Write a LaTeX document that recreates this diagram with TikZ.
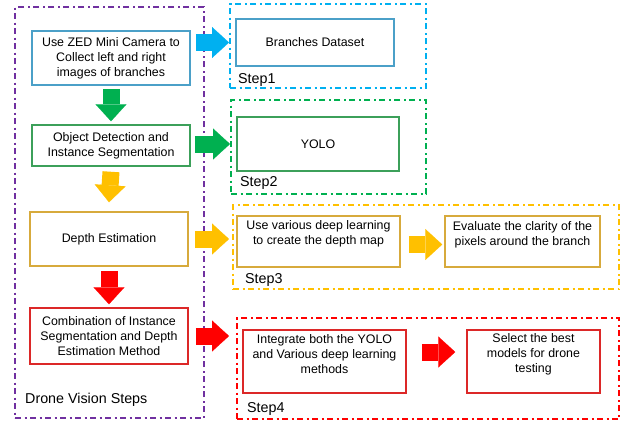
\documentclass[tikz,border=0pt]{standalone}
\usepackage{fontspec}
\setmainfont{Liberation Sans}
\usetikzlibrary{arrows.meta}
\definecolor{cblue}{HTML}{00B0F0}
\definecolor{bblue}{HTML}{4BA0C8}
\definecolor{cgreen}{HTML}{00B050}
\definecolor{bgreen}{HTML}{3CA05A}
\definecolor{cyellow}{HTML}{FFC000}
\definecolor{byellow}{HTML}{D7AA3C}
\definecolor{cred}{HTML}{FF0000}
\definecolor{bred}{HTML}{DC2828}
\definecolor{cpurple}{HTML}{7030A0}
\tikzset{
  box/.style={draw=#1, line width=1.5pt, rectangle, inner sep=2pt, align=center,
    font=\fontsize{12.4}{15}\selectfont, text=black},
  txt/.style={align=center, font=\fontsize{12.4}{15}\selectfont, text=black, inner sep=0pt},
  dbox/.style={draw=#1, line width=2pt, rectangle, dash pattern=on 6pt off 3.5pt on 2pt off 3.5pt},
  steplabel/.style={font=\fontsize{14.3}{16}\selectfont, text=black, inner sep=0pt, anchor=west},
  barrow/.style={draw=#1, line width=17pt, -{Triangle[length=17pt,width=31pt,line width=0.1pt]}},
}
\begin{document}
\begin{tikzpicture}[x=1pt,y=-1pt]
\useasboundingbox (0,0) rectangle (626,421);
% outer dash-dot frames
\node[dbox=cpurple, minimum width=189pt, minimum height=411pt] (pv) at (109.5,212.5) {};
\node[dbox=cblue, minimum width=196pt, minimum height=84pt] (s1) at (328,46) {};
\node[dbox=cgreen, minimum width=195pt, minimum height=94pt] (s2) at (328.5,147) {};
\node[dbox=cyellow, minimum width=386pt, minimum height=84pt] (s3) at (426,247) {};
\node[dbox=cred, minimum width=382pt, minimum height=101pt] (s4) at (428,368.5) {};
% labels
\node[steplabel] (l0) at (25,400) {Drone Vision Steps};
\node[steplabel] (l1) at (238,80) {Step1};
\node[steplabel] (l2) at (240,183) {Step2};
\node[steplabel] (l3) at (245,280) {Step3};
\node[steplabel] (l4) at (247,409) {Step4};
% left boxes
\node[box=bblue, minimum width=158pt, minimum height=54pt] (b1) at (111,58)
  {Use ZED Mini Camera to\\Collect left and right\\images of branches};
\node[box=bgreen, minimum width=158pt, minimum height=41pt] (b2) at (111,145.5)
  {Object Detection and\\Instance Segmentation};
\node[box=byellow, minimum width=158pt, minimum height=54pt] (b3) at (109,239)
  {Depth Estimation};
\node[box=bred, minimum width=158pt, minimum height=56pt] (b4) at (109,336)
  {Combination of Instance\\Segmentation and Depth\\Estimation Method};
% right inner boxes
\node[box=bblue, minimum width=158pt, minimum height=47pt] (bd) at (315,42.5) {Branches Dataset};
\node[box=bgreen, minimum width=162pt, minimum height=54pt] (yo) at (318,144) {YOLO};
\node[box=byellow, minimum width=163pt, minimum height=51pt] (ba) at (318.5,241.5) {};
\node[txt] (ta) at (318.5,234) {Use various deep learning\\to create the depth map};
\node[box=byellow, minimum width=155pt, minimum height=51pt] (bb) at (522.5,241.5) {};
\node[txt] (tb) at (522.5,235) {Evaluate the clarity of the\\pixels around the branch};
\node[box=bred, minimum width=163pt, minimum height=63pt] (bc) at (324.5,361.5) {};
\node[txt] (tc) at (324.5,354.5) {Integrate both the YOLO\\and Various deep learning\\methods};
\node[box=bred, minimum width=133pt, minimum height=63pt] (bdd) at (533.5,361.5) {};
\node[txt] (td) at (533.5,354) {Select the best\\models for drone\\testing};
% vertical block arrows
\draw[barrow=cgreen] ([yshift=-3pt]b1.south) -- ([yshift=3pt]b2.north);
\draw[barrow=cyellow] ([yshift=-5pt]b2.south) -- ([yshift=9pt]b3.north);
\draw[barrow=cred] ([yshift=-4pt]b3.south) -- ([yshift=3pt]b4.north);
% horizontal block arrows
\draw[barrow=cblue] ([xshift=5pt]b1.east |- bd) -- (s1.west |- bd);
\draw[barrow=cgreen] ([xshift=4pt]b2.east |- yo) -- (s2.west |- yo);
\draw[barrow=cyellow] ([xshift=6pt]b3.east) -- ([xshift=-3pt]s3.west |- b3);
\draw[barrow=cred] ([xshift=7pt]b4.east) -- ([xshift=-7pt]s4.west |- b4);
\draw[barrow=cyellow] ([xshift=8pt,yshift=-3pt]ba.east) -- ([xshift=-2pt,yshift=-3pt]bb.west);
\draw[barrow=cred] ([xshift=15pt,yshift=9.5pt]bc.east) -- ([xshift=-11pt,yshift=9.5pt]bdd.west);
\end{tikzpicture}
\end{document}
